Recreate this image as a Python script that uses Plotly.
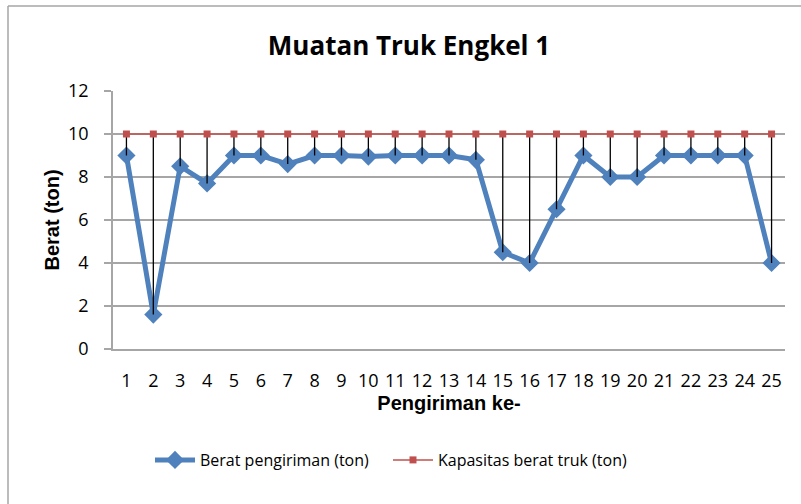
import plotly.graph_objects as go

shipments = [str(i) for i in range(1, 26)]
berat = [9.0, 1.6, 8.5, 7.7, 9.0, 9.0, 8.6, 9.0, 9.0, 8.95, 9.0, 9.0, 9.0, 8.8,
         4.5, 4.0, 6.5, 9.0, 8.0, 8.0, 9.0, 9.0, 9.0, 9.0, 4.0]
kapasitas = [10] * 25
y_ticks = [0, 2, 4, 6, 8, 10, 12]

xs = list(range(1, 26))
gap = [k - b for k, b in zip(kapasitas, berat)]

fig = go.Figure()
fig.add_trace(go.Scatter(
    x=xs, y=berat, mode="lines+markers", name="Berat pengiriman (ton)",
    line=dict(color="#4F81BD", width=5),
    marker=dict(symbol="diamond", size=14, color="#4F81BD"),
    legend="legend",
))
fig.add_trace(go.Scatter(
    x=xs, y=kapasitas, mode="lines+markers", name="Kapasitas berat truk (ton)",
    line=dict(color="#C0504D", width=1.5),
    marker=dict(symbol="square", size=7, color="#C0504D"),
    error_y=dict(type="data", symmetric=False, array=[0] * 25, arrayminus=gap,
                 color="black", thickness=1.3, width=0),
    legend="legend2",
))

L, R, T, B = 113, 16, 91, 155
W, H = 801, 504
pw, ph = W - L - R, H - T - B

def px_x(p):
    return (p - L) / pw

def px_y(p):
    return (H - B - p) / ph

legend_font = dict(family="Open Sans", size=16, color="black")

fig.update_layout(
    width=W, height=H,
    margin=dict(l=L, r=R, t=T, b=B, autoexpand=False),
    paper_bgcolor="white", plot_bgcolor="white",
    title=dict(text="<b>Muatan Truk Engkel 1</b>", x=409 / W, xanchor="center",
               xref="container", y=1 - 46 / H, yanchor="middle",
               font=dict(family="Open Sans", size=26, color="black")),
    xaxis=dict(
        range=[0.5, 25.5], tickmode="array", tickvals=xs, ticktext=shipments,
        showgrid=False, showline=True, linecolor="#A6A6A6", linewidth=1.8,
        ticks="", ticklabelstandoff=14,
        tickfont=dict(family="Open Sans", size=18, color="black"),
        title=dict(text="<b>Pengiriman ke-</b>", standoff=3,
                   font=dict(family="Liberation Sans", size=20, color="black")),
        zeroline=False,
    ),
    yaxis=dict(
        range=[0, 12], tickmode="array", tickvals=y_ticks,
        showgrid=True, gridcolor="#A6A6A6", gridwidth=1.8,
        showline=True, linecolor="#A6A6A6", linewidth=1.8,
        ticks="outside", ticklen=7, tickcolor="#A6A6A6", tickwidth=1.8,
        ticklabelstandoff=12,
        tickfont=dict(family="Open Sans", size=18, color="black"),
        title=dict(text="<b>Berat (ton)</b>", standoff=3,
                   font=dict(family="Liberation Sans", size=20, color="black")),
        zeroline=False,
    ),
    legend=dict(orientation="h", x=px_x(150), xanchor="left",
                y=px_y(460), yanchor="middle", font=legend_font,
                itemwidth=40, bgcolor="rgba(0,0,0,0)"),
    legend2=dict(orientation="h", x=px_x(388), xanchor="left",
                 y=px_y(460), yanchor="middle", font=legend_font,
                 itemwidth=40, bgcolor="rgba(0,0,0,0)"),
    showlegend=True,
)

fig.add_shape(type="line", xref="paper", yref="paper",
              x0=px_x(8), x1=px_x(8), y0=px_y(510), y1=px_y(6),
              line=dict(color="#A6A6A6", width=1.5))
fig.add_shape(type="line", xref="paper", yref="paper",
              x0=px_x(8), x1=px_x(805), y0=px_y(6), y1=px_y(6),
              line=dict(color="#A6A6A6", width=1.5))

fig.write_html("out.html", config={"displayModeBar": False},
               post_script="document.body.style.margin='0';")
